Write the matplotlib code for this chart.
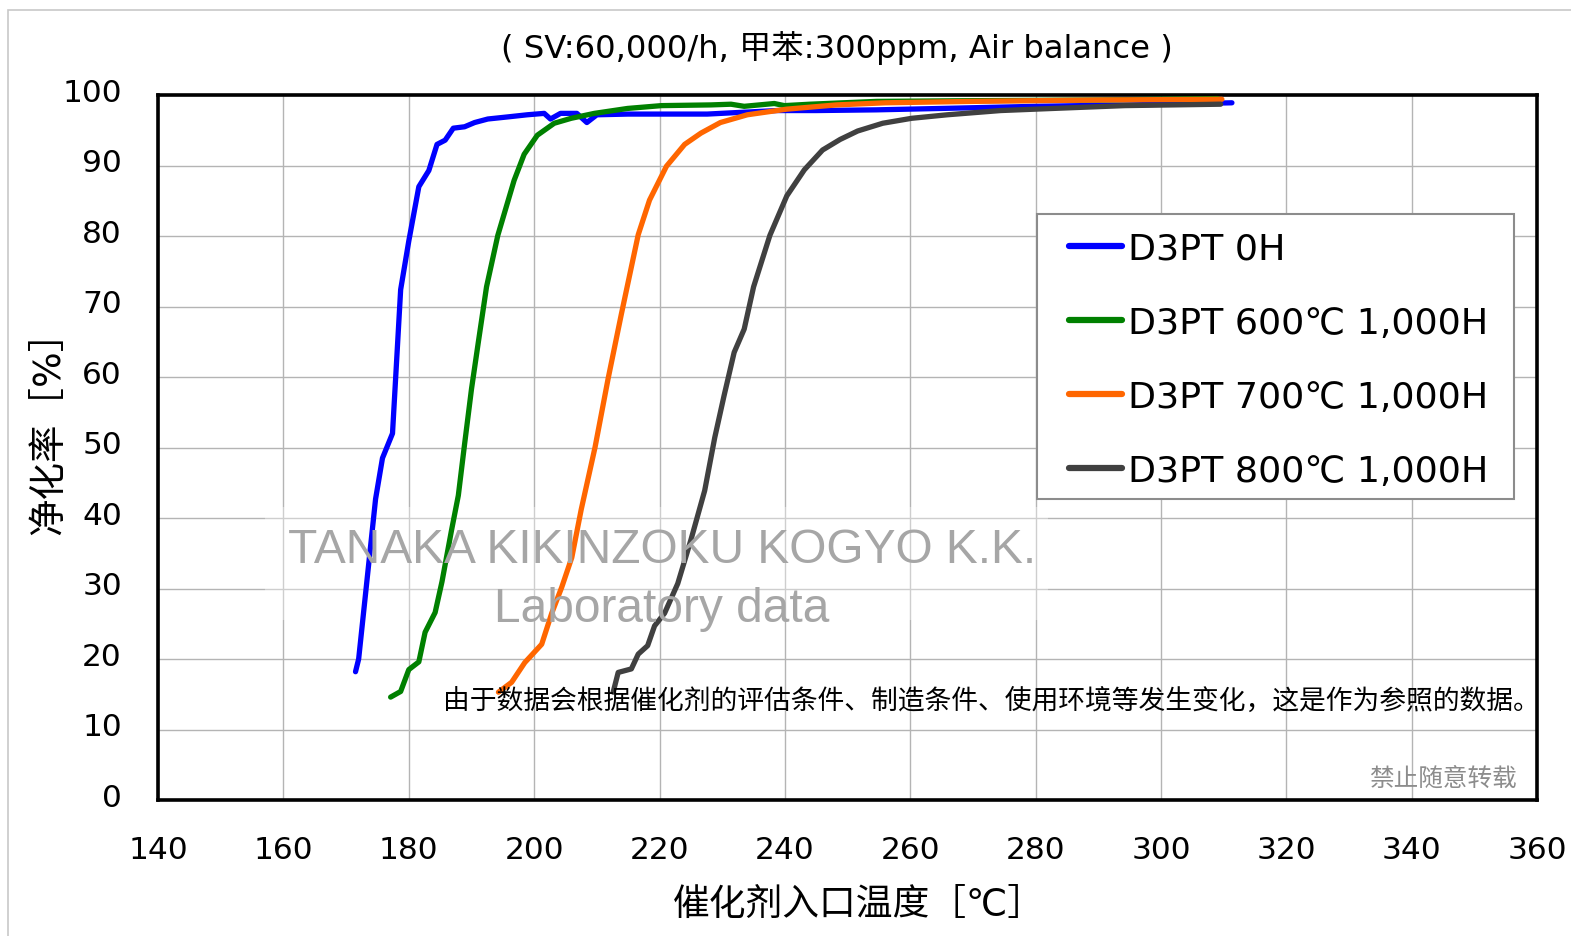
import matplotlib
matplotlib.use("Agg")
import matplotlib.pyplot as plt
import matplotlib.transforms as mtransforms
from matplotlib.patches import Rectangle

plt.rcParams['font.family'] = ['DejaVu Sans', 'Noto Sans CJK SC']

# --- data ---
blue_x = [171.5, 172, 174.7, 175.8, 177.4, 178.7, 180, 181.6, 183.2, 184.5, 185.8, 187.1, 188.9,
          190.5, 192.6, 195.8, 198.9, 201.6, 202.6, 204.2, 206.8, 208.4, 210, 215, 220, 227.6,
          232, 238.7, 245, 254.6, 265, 280, 295, 311.3]
blue_y = [18.2, 20, 42.7, 48.5, 52, 72.4, 79.3, 87, 89.3, 93, 93.6, 95.3, 95.5,
          96.1, 96.6, 96.9, 97.2, 97.4, 96.6, 97.4, 97.4, 96.1, 97.2, 97.3, 97.3, 97.3,
          97.5, 97.8, 97.8, 97.9, 98.1, 98.4, 98.6, 98.9]

green_x = [177.1, 178.7, 180, 181.6, 182.6, 184.2, 185.3, 186.8, 187.9, 188.9, 190, 191.1, 192.4,
           194.2, 196.8, 198.4, 200.5, 203.2, 205.9, 209.6, 214.9, 220.3, 228.2, 231.4, 233.5,
           238.3, 239.9, 244, 254.6, 270, 290, 309]
green_y = [14.6, 15.4, 18.5, 19.6, 23.8, 26.6, 31, 38.2, 43.2, 50.5, 58.3, 65, 72.8,
           80.1, 87.9, 91.6, 94.3, 96.0, 96.7, 97.4, 98.1, 98.5, 98.6, 98.7, 98.4,
           98.8, 98.5, 98.7, 99.1, 99.2, 99.3, 99.5]

orange_x = [194.3, 196.4, 198.5, 201.2, 202.8, 204.4, 206, 207.5, 209.7, 211.8, 213.9, 216.6,
            218.4, 221.1, 224, 226.6, 229.7, 234, 240.3, 248.2, 256, 270, 290, 309.7]
orange_y = [15.3, 16.7, 19.5, 22.1, 26.5, 30.2, 34.4, 41.2, 50, 59.8, 68.9, 80.2,
            85.1, 89.9, 93, 94.6, 96.1, 97.2, 98.0, 98.6, 98.9, 99.1, 99.3, 99.4]

gray_x = [212.6, 213.4, 215.5, 216.6, 218.1, 219.2, 220.8, 222.9, 225, 227.2, 228.8, 230.3,
          231.9, 233.5, 235, 237.6, 240.3, 243.1, 246, 248.8, 251.6, 255.6, 260.2, 265.9,
          274.4, 282.8, 294.2, 309.5]
gray_y = [15.3, 18.1, 18.6, 20.7, 21.9, 24.7, 26.5, 30.7, 36.9, 43.9, 51.4, 57.4,
          63.5, 66.8, 72.8, 80.1, 85.7, 89.4, 92.2, 93.7, 94.9, 96.0, 96.7, 97.2,
          97.8, 98.1, 98.5, 98.7]

series_labels = ['D3PT 0H', 'D3PT 600℃ 1,000H', 'D3PT 700℃ 1,000H', 'D3PT 800℃ 1,000H']
series_colors = ['#0000ff', '#008000', '#ff6600', '#404040']

x_ticks = list(range(140, 361, 20))
y_ticks = list(range(0, 101, 10))

fig = plt.figure(figsize=(15.71, 9.37), dpi=100)
ax = fig.add_axes([0.1006, 0.1451, 0.8779, 0.7524])

# light frame around the whole chart
fig.patches.append(Rectangle((8 / 1571, -0.05), 1.1, 1 - 11 / 937 + 0.05, transform=fig.transFigure,
                             fill=False, edgecolor='#c8c8c8', linewidth=1.2, zorder=0))

all_x = [blue_x, green_x, orange_x, gray_x]
all_y = [blue_y, green_y, orange_y, gray_y]
for xs, ys, lab, col in zip(all_x, all_y, series_labels, series_colors):
    ax.plot(xs, ys, color=col, linewidth=3.8, label=lab, solid_capstyle='round', zorder=3)

ax.set_xlim(140, 360)
ax.set_ylim(0, 100)
ax.set_xticks(x_ticks)
ax.set_yticks(y_ticks)
ax.grid(True, color='#b4b4b4', linewidth=1.0, zorder=0)
ax.set_axisbelow(True)
ax.tick_params(axis='both', length=0, labelsize=22.5)
ax.tick_params(axis='x', pad=25)
ax.tick_params(axis='y', pad=26)
# y tick labels sit a little above their gridlines in the reference
shift = mtransforms.ScaledTranslation(0, 4 / 72, fig.dpi_scale_trans)
for lbl in ax.get_yticklabels():
    lbl.set_transform(lbl.get_transform() + shift)
for s in ax.spines.values():
    s.set_linewidth(2.6)
    s.set_color('black')

ax.set_xlabel('催化剂入口温度［℃］', fontsize=26.5, va='center')
ax.xaxis.set_label_coords(0.508, -0.147)
ax.set_ylabel('净化率［%］', fontsize=27, va='center')
ax.yaxis.set_label_coords(-0.0783, 0.535)

fig.text(0.533, 0.949, '( SV:60,000/h, 甲苯:300ppm, Air balance )', ha='center', va='center', fontsize=23.2)

# watermark
ax.add_patch(Rectangle((157, 25.5), 125, 16, facecolor='white', alpha=0.35, edgecolor='none', zorder=2))
ax.text(0.3655, 0.355, 'TANAKA KIKINZOKU KOGYO K.K.', transform=ax.transAxes, ha='center', va='center',
        fontsize=34.5, color='#a6a6a6', family='Liberation Sans', zorder=4)
ax.text(0.3655, 0.271, 'Laboratory data', transform=ax.transAxes, ha='center', va='center',
        fontsize=34.5, color='#a6a6a6', family='Liberation Sans', zorder=4)

ax.text(1.002, 0.141, '由于数据会根据催化剂的评估条件、制造条件、使用环境等发生变化，这是作为参照的数据。',
        transform=ax.transAxes, ha='right', va='center', fontsize=19.3, color='black',
        family=['Noto Sans CJK SC'], zorder=5)
ax.text(0.985, 0.031, '禁止随意转载', transform=ax.transAxes, ha='right', va='center', fontsize=17.7,
        color='#8c8c8c', family=['Noto Sans CJK SC'], zorder=5)

# legend frame drawn separately so its size matches the reference box
ax.add_patch(Rectangle((0.637, 0.427), 0.3464, 0.4043, transform=ax.transAxes, facecolor='white',
                       edgecolor='#8c8c8c', linewidth=1.5, zorder=6))
leg = ax.legend(loc='upper left', bbox_to_anchor=(0.6608, 0.806), fontsize=26.2, frameon=False,
                handlelength=1.45, handletextpad=0.15, labelspacing=1.1, borderpad=0,
                borderaxespad=0)
leg.set_zorder(7)
for line in leg.get_lines():
    line.set_linewidth(4.5)

fig.savefig('out.png', dpi=100)
